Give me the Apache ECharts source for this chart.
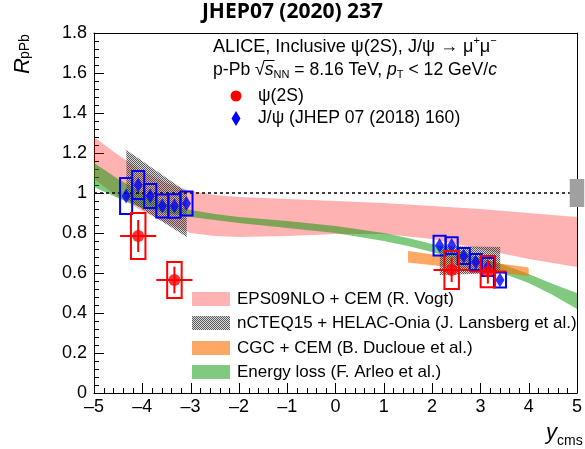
<!DOCTYPE html>
<html>
<head>
<meta charset="utf-8">
<script src="https://cdn.jsdelivr.net/npm/echarts@6/dist/echarts.min.js"></script>
<style>
  html, body { margin: 0; padding: 0; background: #fff; }
  #chart { width: 585px; height: 449px; }
</style>
</head>
<body>
<div id="chart"></div>
<script>
// ---- psi(2S) nuclear modification factor (this measurement) ----
const psiX    = [-4.085, -3.335, 2.405, 3.155];
const psiY    = [0.785, 0.565, 0.615, 0.607];
const psiStat = [0.080, 0.067, 0.060, 0.060];
const psiSyst = [0.115, 0.090, 0.095, 0.078];
const psiBinHalf = 0.375;   // half of the rapidity bin
const psiBoxHalf = 0.15;    // half width of systematic boxes

// ---- J/psi nuclear modification factor (JHEP 07 (2018) 160) ----
const jpsiX    = [-4.335, -4.085, -3.835, -3.585, -3.335, -3.085, 2.155, 2.405, 2.655, 2.905, 3.155, 3.405];
const jpsiY    = [0.985, 1.040, 0.985, 0.935, 0.935, 0.948, 0.737, 0.737, 0.685, 0.655, 0.630, 0.565];
const jpsiSyst = [0.090, 0.070, 0.060, 0.057, 0.059, 0.060, 0.049, 0.042, 0.040, 0.040, 0.045, 0.037];
const jpsiBoxHalf = 0.125;

// ---- model bands ----
const vogtX  = [-5, -4.5, -4, -3.5, -3, -2.5, -2, -1, 0, 1, 2, 3, 4, 5];
const vogtHi = [1.28, 1.19, 1.11, 1.05, 1.01, 0.99, 0.98, 0.97, 0.96, 0.95, 0.935, 0.92, 0.90, 0.88];
const vogtLo = [1.07, 0.98, 0.91, 0.85, 0.80, 0.785, 0.78, 0.785, 0.795, 0.795, 0.77, 0.72, 0.67, 0.63];

const lansBwdX  = [-4.33, -3.08];
const lansBwdHi = [1.215, 1.005];
const lansBwdLo = [0.97, 0.78];
const lansFwdX  = [2.16, 3.41];
const lansFwdHi = [0.735, 0.73];
const lansFwdLo = [0.59, 0.60];

const cgcX  = [1.5, 4.0];
const cgcHi = [0.71, 0.628];
const cgcLo = [0.652, 0.585];

const elossX  = [-5, -4.5, -4, -3.5, -3, -2.5, -2, -1, 0, 1, 1.5, 2, 2.5, 3, 3.5, 4, 4.5, 5];
const elossHi = [1.15, 1.07, 1.00, 0.945, 0.915, 0.895, 0.88, 0.86, 0.835, 0.80, 0.775, 0.745, 0.715, 0.675, 0.64, 0.595, 0.545, 0.50];
const elossLo = [1.03, 0.975, 0.925, 0.90, 0.88, 0.865, 0.85, 0.825, 0.80, 0.76, 0.735, 0.705, 0.67, 0.635, 0.595, 0.55, 0.49, 0.42];

// global normalisation uncertainty drawn at unity
const globalUnc = 0.07;

// ---- axis ranges / tick steps ----
const xMin = -5, xMax = 5, xStep = 1;
const yMin = 0, yMax = 1.8, yStep = 0.2;
const minorDiv = 5;

const legendEntries = [
  'EPS09NLO + CEM (R. Vogt)',
  'nCTEQ15 + HELAC-Onia (J. Lansberg et al.)',
  'CGC + CEM (B. Ducloue et al.)',
  'Energy loss (F. Arleo et al.)'
];

const FONT = '"Liberation Sans", Arial, Helvetica, sans-serif';
const TXT = 17;

const cVogt  = 'rgba(255,0,0,0.30)';
const cCgc   = 'rgba(255,110,0,0.60)';
const cEloss = 'rgba(0,150,0,0.50)';

// fine checker pattern for the hatched nCTEQ15 band
function makeHatch() {
  const c = document.createElement('canvas');
  c.width = 2; c.height = 2;
  const g = c.getContext('2d');
  g.fillStyle = 'rgba(60,60,60,0.85)';
  g.fillRect(0, 0, 1, 1);
  g.fillRect(1, 1, 1, 1);
  g.fillStyle = 'rgba(150,150,150,0.35)';
  g.fillRect(1, 0, 1, 1);
  g.fillRect(0, 1, 1, 1);
  return { image: c, repeat: 'repeat' };
}
const hatch = makeHatch();

function band(name, xs, lo, hi, fill, z) {
  return {
    type: 'custom', name: name, z: z, clip: true, silent: true,
    data: [[xs[0], lo[0]]],
    renderItem: function (params, api) {
      const pts = [];
      for (let i = 0; i < xs.length; i++) pts.push(api.coord([xs[i], hi[i]]));
      for (let i = xs.length - 1; i >= 0; i--) pts.push(api.coord([xs[i], lo[i]]));
      return { type: 'polygon', shape: { points: pts }, style: { fill: fill } };
    }
  };
}

// sequential text runs (normal / italic / sub / superscript pieces)
const mctx = document.createElement('canvas').getContext('2d');
function textRun(x0, yc, segs, baseSize) {
  const out = [];
  let x = x0;
  segs.forEach(s => {
    const size = s.size || baseSize || TXT;
    const font = (s.italic ? 'italic ' : '') + size + 'px ' + FONT;
    mctx.font = font;
    const w = mctx.measureText(s.t).width;
    out.push({ type: 'text', x: x, y: yc + (s.dy || 0), style: { text: s.t, font: font, fill: '#000', verticalAlign: 'middle' } });
    if (s.over) {
      out.push({ type: 'line', shape: { x1: x - 1, y1: yc - 9.5, x2: x + w + 1, y2: yc - 9.5 }, style: { stroke: '#000', lineWidth: 1 } });
    }
    x += w;
  });
  return out;
}

const chart = echarts.init(document.getElementById('chart'), null, { renderer: 'canvas' });

const option = {
  animation: false,
  backgroundColor: '#fff',
  grid: { left: 94, right: 1, top: 33, bottom: 56, show: false },
  xAxis: [{
    type: 'value', min: xMin, max: xMax, interval: xStep,
    axisLine: { show: true, onZero: false, lineStyle: { color: '#000', width: 1 } },
    axisTick: { show: false },
    splitLine: { show: false },
    axisLabel: {
      color: '#000', fontFamily: FONT, fontSize: 18, margin: 5,
      formatter: v => (v < 0 ? '\u2013' + Math.abs(v) : String(v))
    }
  }, {
    type: 'value', position: 'top', min: xMin, max: xMax, interval: xStep,
    axisLine: { show: true, onZero: false, lineStyle: { color: '#000', width: 1 } },
    axisTick: { show: false }, axisLabel: { show: false }, splitLine: { show: false }
  }],
  yAxis: [{
    type: 'value', min: yMin, max: yMax, interval: yStep,
    axisLine: { show: true, onZero: false, lineStyle: { color: '#000', width: 1 } },
    axisTick: { show: false },
    splitLine: { show: false },
    axisLabel: { color: '#000', fontFamily: FONT, fontSize: 18, margin: 7 }
  }, {
    type: 'value', position: 'right', min: yMin, max: yMax, interval: yStep,
    axisLine: { show: true, onZero: false, lineStyle: { color: '#000', width: 1 } },
    axisTick: { show: false }, axisLabel: { show: false }, splitLine: { show: false }
  }],
  series: [
    band(legendEntries[0], vogtX, vogtLo, vogtHi, cVogt, 1),
    band(legendEntries[3], elossX, elossLo, elossHi, cEloss, 2),
    band(legendEntries[2], cgcX, cgcLo, cgcHi, cCgc, 3),
    band(legendEntries[1], lansBwdX, lansBwdLo, lansBwdHi, hatch, 4),
    band(legendEntries[1] + ' fwd', lansFwdX, lansFwdLo, lansFwdHi, hatch, 4),
    // unity reference line
    {
      type: 'line', z: 5, silent: true, symbol: 'none',
      data: [[xMin, 1], [4.85, 1]],
      lineStyle: { color: '#000', width: 1.5, type: [3, 3] }
    },
    // global uncertainty box at unity
    {
      type: 'custom', z: 5, silent: true, clip: false,
      data: [[xMax, 1, globalUnc]],
      renderItem: function (params, api) {
        const p1 = api.coord([api.value(0) - 0.15, api.value(1) + api.value(2)]);
        const p2 = api.coord([api.value(0) + 0.15, api.value(1) - api.value(2)]);
        return { type: 'rect', shape: { x: p1[0], y: p1[1], width: p2[0] - p1[0], height: p2[1] - p1[1] }, style: { fill: '#a0a0a0' } };
      }
    },
    // J/psi systematic boxes
    {
      type: 'custom', z: 6, silent: true,
      data: jpsiX.map((x, i) => [x, jpsiY[i], jpsiSyst[i]]),
      renderItem: function (params, api) {
        const x = api.value(0), y = api.value(1), s = api.value(2);
        const p1 = api.coord([x - jpsiBoxHalf, y + s]);
        const p2 = api.coord([x + jpsiBoxHalf, y - s]);
        return { type: 'rect', shape: { x: p1[0], y: p1[1], width: p2[0] - p1[0], height: p2[1] - p1[1] },
                 style: { fill: 'none', stroke: '#0000ff', lineWidth: 2 } };
      }
    },
    {
      type: 'scatter', z: 7, name: 'J/\u03c8', silent: true,
      symbol: 'diamond', symbolSize: [9, 15],
      itemStyle: { color: '#0000ff' },
      data: jpsiX.map((x, i) => [x, jpsiY[i]])
    },
    // psi(2S) systematic boxes + statistical bars
    {
      type: 'custom', z: 8, silent: true,
      data: psiX.map((x, i) => [x, psiY[i], psiStat[i], psiSyst[i]]),
      renderItem: function (params, api) {
        const x = api.value(0), y = api.value(1), st = api.value(2), sy = api.value(3);
        const b1 = api.coord([x - psiBoxHalf, y + sy]);
        const b2 = api.coord([x + psiBoxHalf, y - sy]);
        const v1 = api.coord([x, y + st]);
        const v2 = api.coord([x, y - st]);
        const h1 = api.coord([x - psiBinHalf, y]);
        const h2 = api.coord([x + psiBinHalf, y]);
        return { type: 'group', children: [
          { type: 'rect', shape: { x: b1[0], y: b1[1], width: b2[0] - b1[0], height: b2[1] - b1[1] }, style: { fill: 'none', stroke: '#ff0000', lineWidth: 2 } },
          { type: 'line', shape: { x1: v1[0], y1: v1[1], x2: v2[0], y2: v2[1] }, style: { stroke: '#ff0000', lineWidth: 2 } },
          { type: 'line', shape: { x1: h1[0], y1: h1[1], x2: h2[0], y2: h2[1] }, style: { stroke: '#ff0000', lineWidth: 2 } }
        ] };
      }
    },
    {
      type: 'scatter', z: 9, name: '\u03c8(2S)', silent: true,
      symbol: 'circle', symbolSize: 12,
      itemStyle: { color: '#ff0000' },
      data: psiX.map((x, i) => [x, psiY[i]])
    }
  ],
  graphic: []
};

// title
option.graphic.push({
  type: 'text', left: 'center', top: 2,
  style: { text: 'JHEP07 (2020) 237', font: 'bold 21px "Open Sans", sans-serif', fill: '#000' }
});

// axis titles
option.graphic.push({
  type: 'group', x: 0, y: 0,
  children: [
    { type: 'text', x: 12, y: 74, rotation: Math.PI / 2,
      style: { text: 'R', font: 'italic 22px ' + FONT, fill: '#000', verticalAlign: 'top' } },
    { type: 'text', x: 18, y: 59, rotation: Math.PI / 2,
      style: { text: 'pPb', font: '14px ' + FONT, fill: '#000', verticalAlign: 'top' } }
  ]
});
option.graphic.push({
  type: 'group', x: 0, y: 0,
  children: textRun(546, 433, [
    { t: 'y', italic: true, size: 22 },
    { t: 'cms', size: 14, dy: 8 }
  ])
});

// top-right text block
const TOP = 17.6;
option.graphic.push({
  type: 'group', x: 0, y: 0,
  children: textRun(213, 47, [
    { t: 'ALICE, Inclusive \u03c8(2S), J/\u03c8 \u2192 \u03bc' },
    { t: '+', size: 11, dy: -6 },
    { t: '\u03bc' },
    { t: '\u2212', size: 11, dy: -6 }
  ], 18.1)
});
option.graphic.push({
  type: 'group', x: 0, y: 0,
  children: textRun(213, 70, [
    { t: 'p-Pb ' },
    { t: '\u221a' },
    { t: 's', italic: true, over: true },
    { t: 'NN', size: 11, dy: 5 },
    { t: ' = 8.16 TeV, ' },
    { t: 'p', italic: true },
    { t: 'T', size: 11, dy: 5 },
    { t: ' < 12 GeV/' },
    { t: 'c', italic: true }
  ], TOP)
});
option.graphic.push({ type: 'circle', shape: { cx: 236, cy: 96, r: 5.5 }, style: { fill: '#ff0000' } });
option.graphic.push({ type: 'group', x: 0, y: 0, children: textRun(258, 96, [{ t: '\u03c8(2S)' }], TOP) });
option.graphic.push({ type: 'polygon', shape: { points: [[236, 111], [240.5, 118.5], [236, 126], [231.5, 118.5]] }, style: { fill: '#0000ff' } });
option.graphic.push({ type: 'group', x: 0, y: 0, children: textRun(258, 118, [{ t: 'J/\u03c8 (JHEP 07 (2018) 160)' }], TOP) });

// bottom legend for the model bands
const legendFills = [cVogt, hatch, cCgc, cEloss];
const legendRowY = [299, 323, 348, 372];
legendEntries.forEach((label, i) => {
  option.graphic.push({ type: 'rect', shape: { x: 192, y: legendRowY[i] - 7, width: 38, height: 14 }, style: { fill: legendFills[i] } });
  option.graphic.push({ type: 'group', x: 0, y: 0, children: textRun(237, legendRowY[i], [{ t: label }]) });
});

chart.setOption(option);

// inward-pointing major/minor ticks on the bottom and left axes, placed through the axis scales
function addTicks() {
  const kids = [];
  const st = () => ({ stroke: '#000', lineWidth: 1 });
  const nx = Math.round((xMax - xMin) / xStep * minorDiv);
  for (let i = 0; i <= nx; i++) {
    const v = xMin + i * xStep / minorDiv;
    const p = chart.convertToPixel({ gridIndex: 0 }, [v, yMin]);
    const x = Math.round(p[0]) + 0.5;
    const len = (i % minorDiv === 0) ? 10 : 5;
    kids.push({ type: 'line', shape: { x1: x, y1: p[1], x2: x, y2: p[1] - len }, style: st() });
  }
  const ny = Math.round((yMax - yMin) / yStep * minorDiv);
  for (let i = 0; i <= ny; i++) {
    const v = yMin + i * yStep / minorDiv;
    const p = chart.convertToPixel({ gridIndex: 0 }, [xMin, v]);
    const y = Math.round(p[1]) + 0.5;
    const len = (i % minorDiv === 0) ? 10 : 5;
    kids.push({ type: 'line', shape: { x1: p[0], y1: y, x2: p[0] + len, y2: y }, style: st() });
  }
  const g = option.graphic.slice();
  g.push({ type: 'group', id: 'axisTicks', x: 0, y: 0, z: 50, children: kids });
  chart.setOption({ graphic: g });
}
addTicks();
</script>
</body>
</html>
